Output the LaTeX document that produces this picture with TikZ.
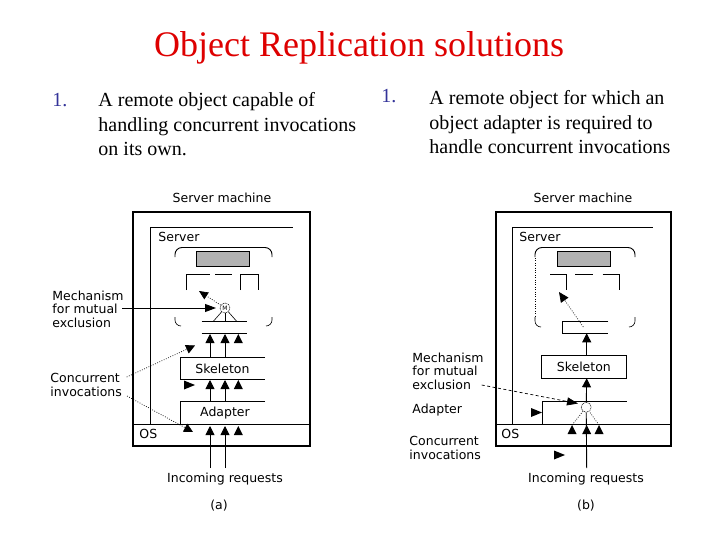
\documentclass[tikz,border=0pt]{standalone}
\usepackage{fontspec}
\setmainfont{Liberation Serif}
\newfontfamily\diagfont{DejaVu Sans}
\usetikzlibrary{arrows.meta}
\definecolor{titlered}{RGB}{222,0,0}
\definecolor{numblue}{RGB}{51,51,153}
\definecolor{stategray}{RGB}{178,178,178}
\tikzset{
  dlabel/.style={font=\diagfont\fontsize{12.5}{13.6}\selectfont, inner sep=0pt, align=left},
  bodytext/.style={font=\fontsize{20}{24}\selectfont, inner sep=0pt, anchor=base west},
  numtext/.style={font=\fontsize{20}{24}\selectfont, inner sep=0pt, anchor=base west, text=numblue},
  tri/.style={-{Triangle[width=9pt,length=9pt]}},
  dotline/.style={line width=0.7pt, dash pattern=on 0.8pt off 1.6pt},
  dashline/.style={line width=0.7pt, dash pattern=on 3pt off 2.5pt},
  outerbox/.style={line width=2.4pt},
  statebox/.style={draw, fill=stategray},
  mutex/.style={circle, draw, line width=0.5pt, dash pattern=on 1pt off 0.7pt, inner sep=0pt, minimum size=10pt, font=\diagfont\fontsize{6}{6}\selectfont},
  uptri/.pic={\fill (0,0) -- (4.5,9) -- (-4.5,9) -- cycle;},
  rtri/.pic={\fill (0,0) -- (-11,-4.5) -- (-11,4.5) -- cycle;}
}
\begin{document}
\begin{tikzpicture}[x=1pt, y=-1pt, line width=0.9pt]
\useasboundingbox (0,0) rectangle (720,540);
\fill[white] (0,0) rectangle (720,540);

% ---------- title and text ----------
\node[anchor=base, text=titlered, font=\fontsize{36}{40}\selectfont, inner sep=0pt] (title) at (359,57) {Object Replication solutions};

\node[numtext] (numA) at (52,107) {1.};
\node[bodytext] (ta1) at (98,107) {A remote object capable of};
\node[bodytext] (ta2) at (98,131.5) {handling concurrent invocations};
\node[bodytext] (ta3) at (98,156) {on its own.};

\node[numtext] (numB) at (381,103) {1.};
\node[bodytext] (tb1) at (429,105) {A remote object for which an};
\node[bodytext] (tb2) at (429,129.5) {object adapter is required to};
\node[bodytext] (tb3) at (429,154) {handle concurrent invocations};

% ================= (a) =================
\node[dlabel] (smA) at (222,198) {Server machine};
\draw[outerbox] (132.7,212.3) rectangle (310,446);
\draw (132.7,424) -- (310,424);
\draw (150,424) -- (150,227.5) -- (293,227.5);
\node[dlabel, anchor=west] (srvA) at (158,237) {Server};

% object outline pieces
\draw[rounded corners=7pt] (175,257) -- (175,247.5) -- (272,247.5) -- (272,257);
\draw[line width=0.6pt, rounded corners=6pt] (175,317) -- (175,326) -- (181,326);
\draw[line width=0.6pt, rounded corners=6pt] (272,317) -- (272,326) -- (266,326);
\draw[statebox] (196,251.7) rectangle (249.3,266);
\draw (186.7,290) -- (186.7,274.3) -- (210,274.3);
\draw (215,274.3) -- (231.7,274.3);
\draw (240,290) -- (240,274.3) -- (258.3,274.3) -- (258.3,290);

\node[mutex] (mA) at (225,308) {M};
\coordinate (barA1) at (213,321.7);
\coordinate (barA2) at (225,321.7);
\coordinate (barA3) at (237,321.7);
\draw[line width=0.6pt] (barA1) -- (mA);
\draw[line width=0.6pt] (barA2) -- (mA);
\draw[line width=0.6pt] (barA3) -- (mA);
\coordinate (methA) at (199,291);
\draw[dotline, -{Triangle[width=8pt,length=9pt]}] (mA) -- (methA);

\draw (201.7,321.7) -- (247.3,321.7);
\draw (201.7,333.3) -- (247.3,333.3);

% skeleton (a)
\draw (265,357.3) -- (180,357.3) -- (180,379.3) -- (265,379.3);
\node[dlabel] (skA) at (222.5,368.5) {Skeleton};
\draw[tri] (210,357.3) -- (210,334);
\draw[tri] (225,357.3) -- (225,334);
\pic at (238.3,334) {uptri};

% adapter (a)
\draw (265,401.7) -- (180,401.7) -- (180,424);
\node[dlabel] (adA) at (225,413) {Adapter};
\draw[tri] (210,401.7) -- (210,380);
\draw[tri] (225,401.7) -- (225,380);
\pic at (238.3,380) {uptri};
\pic at (195,385) {rtri};

\node[dlabel, anchor=west] (osA) at (139,434) {OS};
\node[dlabel] (inA) at (225,479) {Incoming requests};
\draw[tri] (210,468) -- (210,426);
\draw[tri] (225,468) -- (225,426);
\pic at (238.3,426) {uptri};
\node[dlabel] (capA) at (219,506) {(a)};

% labels (a)
\node[dlabel, anchor=west] (mechA) at (52,309) {Mechanism\\for mutual\\exclusion};
\coordinate (mechAend) at (122,308);
\coordinate (mechAtip) at (216,308);
\draw[-{Triangle[width=8pt,length=11pt]}] (mechAend) -- (mechAtip);
\node[dlabel, anchor=west] (concA) at (50,385) {Concurrent\\invocations};
\coordinate (concA1) at (126.7,377);
\coordinate (concA1tip) at (195,345.5);
\coordinate (concA2) at (127,396);
\coordinate (concA2tip) at (193,432);
\draw[dotline, tri] (concA1) -- (concA1tip);
\draw[dotline, tri] (concA2) -- (concA2tip);

% ================= (b) =================
\node[dlabel] (smB) at (583,198) {Server machine};
\draw[outerbox] (496,212.3) rectangle (670.7,446);
\draw (496,424) -- (670.7,424);
\draw (512.7,424) -- (512.7,227.7) -- (653.3,227.7);
\node[dlabel, anchor=west] (srvB) at (519,237) {Server};

\draw[rounded corners=7pt] (535,257) -- (535,247.5) -- (635,247.5) -- (635,257);
\draw[dotline, line width=0.5pt] (535,258) -- (535,318);
\draw[line width=0.6pt, rounded corners=6pt] (535,317) -- (535,327) -- (541,327);
\draw[line width=0.6pt, rounded corners=6pt] (635,317) -- (635,327) -- (629,327);
\draw[statebox] (557.3,251.7) rectangle (610.7,266);
\draw (550,274.3) -- (566,274.3) -- (566,290);
\draw (575,274.3) -- (592.7,274.3);
\draw (602.7,274.3) -- (619.3,274.3) -- (619.3,290);

\coordinate (ifB) at (583.3,327);
\coordinate (methB) at (559,292);
\draw[dotline, -{Triangle[width=9pt,length=10pt]}] (ifB) -- (methB);

\draw (608.3,321.7) -- (562.7,321.7) -- (562.7,333.3) -- (608.3,333.3);

\node[draw, minimum width=85.7pt, minimum height=23.3pt, inner sep=0pt, font=\diagfont\fontsize{12.5}{13.6}\selectfont] (skB) at (583.85,366.65) {Skeleton};
\draw[tri] (skB.north -| 586.7,0) -- (586.7,333.3);

\draw (626.7,401.7) -- (542.7,401.7) -- (542.7,424);
\node[mutex] (mB) at (586.2,407.3) {};
\draw[tri] (mB) -- (586.7,378.3);

\coordinate (osB1) at (572,425);
\coordinate (osB3) at (599,425);
\draw[dotline] (osB1) -- (mB);
\draw[dotline] (osB3) -- (mB);
\draw (586.7,468) -- (mB);
\pic at (572,425) {uptri};
\pic at (586.7,425) {uptri};
\pic at (599,425) {uptri};

\node[dlabel, anchor=west] (osB) at (501,434) {OS};
\node[dlabel] (inB) at (586,479) {Incoming requests};
\node[dlabel] (capB) at (586,506) {(b)};

% labels (b)
\node[dlabel, anchor=west] (mechB) at (412,371) {Mechanism\\for mutual\\exclusion};
\coordinate (mechBend) at (481.7,385);
\coordinate (mechBtip) at (578,403.5);
\draw[dashline, -{Triangle[width=8pt,length=11pt]}] (mechBend) -- (mechBtip);
\node[dlabel, anchor=west] (adB) at (412,410) {Adapter};
\pic at (542,412.5) {rtri};
\node[dlabel, anchor=west] (concB) at (409,448) {Concurrent\\invocations};
\pic at (565,455) {rtri};
\end{tikzpicture}
\end{document}
